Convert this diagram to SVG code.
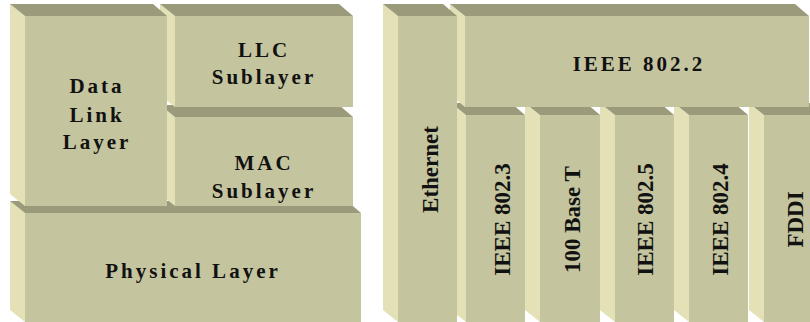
<svg xmlns="http://www.w3.org/2000/svg" width="810" height="322" viewBox="0 0 810 322">
<style>
.front{fill:#c4c49e}
.top{fill:#9b9b7b}
.side{fill:#e3e1b5}
.lbl{font-family:"Liberation Serif","Times New Roman",serif;font-weight:bold;font-size:21px;letter-spacing:3px;fill:#111;text-anchor:middle}
.vl{font-family:"Liberation Serif","Times New Roman",serif;font-weight:bold;font-size:23px;fill:#111;text-anchor:middle}
</style>
<rect width="810" height="322" fill="#ffffff"/>
<!-- Left diagram -->
<g id="physical">
<polygon class="side" points="10,201 25,213 25,322 10,310"/>
<polygon class="top" points="10,201 347,201 361,213 25,213"/>
<rect class="front" x="25" y="213" width="336" height="110"/>
<text class="lbl" x="193" y="278">Physical Layer</text>
</g>
<g id="mac">
<polygon class="side" points="160,105 175,117 175,206 160,194"/>
<polygon class="top" points="160,105 339,105 353,117 175,117"/>
<rect class="front" x="175" y="117" width="178" height="89"/>
<text class="lbl" x="264" y="170">MAC</text>
<text class="lbl" x="264" y="198">Sublayer</text>
</g>
<g id="llc">
<polygon class="side" points="160,4 175,16 175,107 160,95"/>
<polygon class="top" points="160,4 339,4 353,16 175,16"/>
<rect class="front" x="175" y="16" width="178" height="91"/>
<text class="lbl" x="264" y="57">LLC</text>
<text class="lbl" x="264" y="84">Sublayer</text>
</g>
<g id="datalink">
<polygon class="side" points="10,4 25,16 25,206 10,194"/>
<polygon class="top" points="10,4 153,4 167,16 25,16"/>
<rect class="front" x="25" y="16" width="142" height="190"/>
<text class="lbl" x="97" y="93">Data</text>
<text class="lbl" x="97" y="122">Link</text>
<text class="lbl" x="97" y="149">Layer</text>
</g>
<!-- Right diagram -->
<g id="fddi">
<polygon class="side" points="749,103 764,115 764,322 749,310"/>
<polygon class="top" points="749,103 810,103 810,115 764,115"/>
<rect class="front" x="764" y="115" width="46" height="207"/>
<text class="vl" transform="translate(803,219.5) rotate(-90)">FDDI</text>
</g>
<g id="ieee8024">
<polygon class="side" points="674,103 689,115 689,322 674,310"/>
<polygon class="top" points="674,103 734,103 748,115 689,115"/>
<rect class="front" x="689" y="115" width="59" height="207"/>
<text class="vl" transform="translate(728,219.5) rotate(-90)">IEEE 802.4</text>
</g>
<g id="ieee8025">
<polygon class="side" points="600,103 615,115 615,322 600,310"/>
<polygon class="top" points="600,103 660,103 674,115 615,115"/>
<rect class="front" x="615" y="115" width="59" height="207"/>
<text class="vl" transform="translate(653,219.5) rotate(-90)">IEEE 802.5</text>
</g>
<g id="base100t">
<polygon class="side" points="525,103 540,115 540,322 525,310"/>
<polygon class="top" points="525,103 586,103 600,115 540,115"/>
<rect class="front" x="540" y="115" width="60" height="207"/>
<text class="vl" transform="translate(580,219.5) rotate(-90)">100 Base T</text>
</g>
<g id="ieee8023">
<polygon class="side" points="451,103 466,115 466,322 451,310"/>
<polygon class="top" points="451,103 511,103 525,115 466,115"/>
<rect class="front" x="466" y="115" width="59" height="207"/>
<text class="vl" transform="translate(510,219.5) rotate(-90)">IEEE 802.3</text>
</g>
<g id="ieee8022">
<polygon class="side" points="450,4 465,16 465,107 450,95"/>
<polygon class="top" points="450,4 795,4 809,16 465,16"/>
<rect class="front" x="465" y="16" width="344" height="91"/>
<text class="lbl" x="639" y="71">IEEE 802.2</text>
</g>
<g id="ethernet">
<polygon class="side" points="383,4 398,16 398,322 383,310"/>
<polygon class="top" points="383,4 443,4 457,16 398,16"/>
<rect class="front" x="398" y="16" width="59" height="306"/>
<text class="vl" transform="translate(438,169.5) rotate(-90)">Ethernet</text>
</g>
</svg>
